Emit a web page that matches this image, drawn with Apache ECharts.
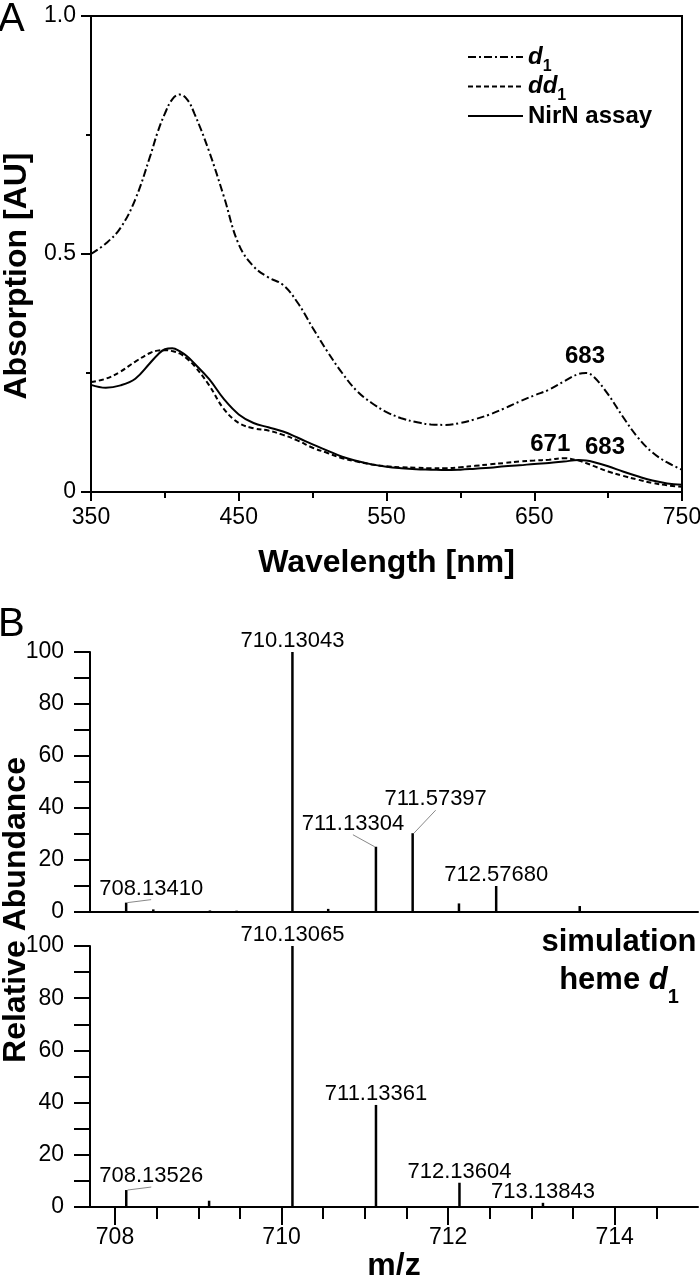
<!DOCTYPE html>
<html><head><meta charset="utf-8">
<script src="https://cdn.jsdelivr.net/npm/echarts@6/dist/echarts.min.js"></script>
<style>html,body{margin:0;padding:0;background:#fff}#c{width:700px;height:1275px}</style>
</head><body><div id="c"></div>
<script>
// ---------- Panel A data ----------
const wavelengths = [350,360,370,380,390,395,400,405,410,415,420,430,440,450,460,470,480,490,500,510,520,530,540,550,560,570,580,590,600,610,620,630,640,650,660,670,680,685,690,700,710,720,730,740,750];
const absD1 = [0.500,0.522,0.555,0.615,0.705,0.755,0.795,0.825,0.835,0.825,0.795,0.715,0.620,0.520,0.474,0.451,0.435,0.397,0.345,0.295,0.250,0.212,0.187,0.168,0.155,0.147,0.142,0.141,0.145,0.153,0.163,0.176,0.190,0.203,0.215,0.232,0.248,0.250,0.243,0.205,0.158,0.115,0.083,0.062,0.047];
const absDD1 = [0.231,0.238,0.253,0.274,0.292,0.297,0.298,0.296,0.291,0.280,0.265,0.224,0.174,0.145,0.134,0.129,0.120,0.108,0.093,0.082,0.071,0.064,0.058,0.054,0.052,0.051,0.050,0.050,0.052,0.055,0.058,0.061,0.064,0.066,0.068,0.071,0.066,0.061,0.055,0.043,0.034,0.026,0.019,0.014,0.011];
const absNirN = [0.225,0.219,0.224,0.238,0.271,0.288,0.300,0.302,0.296,0.285,0.270,0.237,0.195,0.163,0.145,0.136,0.127,0.114,0.100,0.087,0.074,0.065,0.058,0.053,0.050,0.048,0.047,0.046,0.047,0.049,0.051,0.054,0.056,0.059,0.061,0.064,0.067,0.066,0.063,0.054,0.043,0.033,0.024,0.018,0.015];
const seriesNamesA = ['d1', 'dd1', 'NirN assay'];
const peakWavelengthsA = [683, 671, 683];
const peakValuesA = [0.250, 0.071, 0.066];
const peakTextsA = ['683', '671', '683'];

// ---------- Panel B data ----------
const mzMeasured = [708.1341, 708.46, 709.14, 709.46, 710.13043, 710.56, 711.13304, 711.57397, 712.13, 712.5768, 713.58];
const abMeasured = [3.6, 1.0, 0.6, 0.5, 100, 1.2, 25.1, 30.3, 3.3, 10.0, 2.3];
const lblMeasured = ['708.13410', '', '', '', '710.13043', '', '711.13304', '711.57397', '', '712.57680', ''];
const mzSimulated = [708.13526, 709.13, 710.13065, 711.13361, 712.13604, 713.13843, 714.14];
const abSimulated = [6.5, 2.4, 100, 39.1, 9.3, 1.6, 0.3];
const lblSimulated = ['708.13526', '', '710.13065', '711.13361', '712.13604', '713.13843', ''];
const mzMajorTicks = [708, 710, 712, 714];
const mzMinorTicks = [708.5, 709, 709.5, 710.5, 711, 711.5, 712.5, 713, 713.5, 714.5];

// ---------- styles / layout ----------
const FONT = '"Liberation Sans", Arial, Helvetica, sans-serif';
const INK = '#000';
const TICKFONT = 23;
const labelShift = {
  '708.13410': [25, -3],
  '711.13304': [-23, -12],
  '711.57397': [23, -23],
  '708.13526': [25, -3]
};
const markOffsetsA = [[2, -17], [-15, -14], [22, -13]];
const dashStyles = [[8, 3, 2, 3], [5, 3], 'solid'];
const absData = [absD1, absDD1, absNirN];

const chart = echarts.init(document.getElementById('c'), null, {renderer: 'canvas'});

function stickData(mz, ab, lbl) {
  return mz.map((m, i) => {
    const item = {value: [m, ab[i]], name: lbl[i]};
    if (lbl[i]) {
      item.label = {show: true};
      if (labelShift[lbl[i]]) item.labelLine = {show: true, lineStyle: {color: '#888', width: 1}};
    }
    return item;
  });
}

const lineSeries = seriesNamesA.map((name, k) => ({
  name, type: 'line', xAxisIndex: 0, yAxisIndex: 0,
  data: wavelengths.map((w, i) => [w, absData[k][i]]),
  symbol: 'none', smooth: 0.4,
  lineStyle: {color: INK, width: 2, type: dashStyles[k]},
  itemStyle: {color: INK},
  markPoint: {
    symbol: 'circle', symbolSize: 0,
    data: [{coord: [peakWavelengthsA[k], peakValuesA[k]], name: peakTextsA[k]}],
    label: {show: true, position: 'inside', offset: markOffsetsA[k], formatter: p => p.name,
      color: INK, fontFamily: FONT, fontWeight: 'bold', fontSize: 24}
  }
}));

const stickLabel = {
  show: false, position: 'top', distance: 0, formatter: p => p.name,
  color: INK, fontFamily: FONT, fontSize: 22
};
const stickLayout = function (params) {
  const s = labelShift[params.text];
  if (s) return {dx: s[0], dy: s[1]};
  return {};
};

const option = {
  animation: false,
  backgroundColor: '#fff',
  grid: [
    {left: 91, top: 16, width: 591, height: 476, show: true, borderColor: INK, borderWidth: 2, backgroundColor: 'transparent', outerBoundsMode: 'none', containLabel: false},
    {left: 90, top: 652, width: 608, height: 260, outerBoundsMode: 'none', containLabel: false},
    {left: 90, top: 946, width: 608, height: 261, outerBoundsMode: 'none', containLabel: false}
  ],
  legend: {
    data: seriesNamesA, orient: 'vertical', left: 467, top: 45, padding: 0,
    itemWidth: 55, itemHeight: 14, itemGap: 0,
    itemStyle: {color: 'rgba(0,0,0,0)', borderWidth: 0, opacity: 0},
    formatter: name => name === 'd1' ? '{i|d}{s|1}' : name === 'dd1' ? '{i|dd}{s|1}' : '{b|NirN assay}',
    textStyle: {
      color: INK, fontFamily: FONT, fontWeight: 'bold', fontSize: 24,
      rich: {
        i: {fontFamily: FONT, fontWeight: 'bold', fontStyle: 'italic', fontSize: 24, color: INK, lineHeight: 29},
        s: {fontFamily: FONT, fontWeight: 'bold', fontSize: 16, color: INK, verticalAlign: 'bottom', lineHeight: 29, padding: [0, 0, -3, 0]},
        b: {fontFamily: FONT, fontWeight: 'bold', fontSize: 24, color: INK, lineHeight: 29}
      }
    }
  },
  xAxis: [
    {
      gridIndex: 0, type: 'value', min: 350, max: 750, interval: 100, position: 'bottom',
      name: 'Wavelength [nm]', nameLocation: 'middle', nameGap: 55,
      nameTextStyle: {color: INK, fontFamily: FONT, fontWeight: 'bold', fontSize: 32},
      axisLine: {lineStyle: {color: INK, width: 2}},
      axisTick: {show: true, inside: false, length: 9, lineStyle: {color: INK, width: 2}},
      minorTick: {show: true, splitNumber: 2, length: 6, lineStyle: {color: INK, width: 2}},
      axisLabel: {color: INK, fontFamily: FONT, fontSize: TICKFONT, margin: 14},
      splitLine: {show: false}
    },
    {
      gridIndex: 1, type: 'value', min: 707.7, max: 715, position: 'bottom',
      axisLine: {lineStyle: {color: INK, width: 2}},
      axisTick: {show: false}, axisLabel: {show: false}, splitLine: {show: false}
    },
    {
      gridIndex: 2, type: 'value', min: 707.7, max: 715, position: 'bottom', offset: 0,
      name: 'm/z', nameLocation: 'middle', nameGap: 36,
      nameTextStyle: {color: INK, fontFamily: FONT, fontWeight: 'bold', fontSize: 32},
      axisLine: {lineStyle: {color: INK, width: 2}},
      axisTick: {show: true, length: 18, customValues: mzMajorTicks, lineStyle: {color: INK, width: 2}},
      axisLabel: {color: INK, fontFamily: FONT, fontSize: TICKFONT, margin: 19, customValues: mzMajorTicks},
      splitLine: {show: false}
    },
    {
      gridIndex: 2, type: 'value', min: 707.7, max: 715, position: 'bottom', offset: 0,
      axisLine: {show: false},
      axisTick: {show: true, length: 12, customValues: mzMinorTicks, lineStyle: {color: INK, width: 2}},
      axisLabel: {show: false}, splitLine: {show: false}
    }
  ],
  yAxis: [
    {
      gridIndex: 0, type: 'value', min: 0, max: 1, interval: 0.5,
      axisLine: {show: true, lineStyle: {color: INK, width: 2}},
      axisTick: {show: true, length: 10, lineStyle: {color: INK, width: 2}},
      minorTick: {show: true, splitNumber: 2, length: 5, lineStyle: {color: INK, width: 2}},
      axisLabel: {color: INK, fontFamily: FONT, fontSize: TICKFONT, margin: 15, formatter: v => v === 0 ? '0' : v.toFixed(1)},
      splitLine: {show: false}
    },
    {
      gridIndex: 1, type: 'value', min: 0, max: 100, interval: 20,
      axisLine: {show: true, lineStyle: {color: INK, width: 2}},
      axisTick: {show: true, length: 16, lineStyle: {color: INK, width: 2}},
      minorTick: {show: true, splitNumber: 2, length: 16, lineStyle: {color: INK, width: 2}},
      axisLabel: {color: INK, fontFamily: FONT, fontSize: TICKFONT, margin: 26},
      splitLine: {show: false}
    },
    {
      gridIndex: 2, type: 'value', min: 0, max: 100, interval: 20,
      axisLine: {show: true, lineStyle: {color: INK, width: 2}},
      axisTick: {show: true, length: 16, lineStyle: {color: INK, width: 2}},
      minorTick: {show: true, splitNumber: 2, length: 16, lineStyle: {color: INK, width: 2}},
      axisLabel: {color: INK, fontFamily: FONT, fontSize: TICKFONT, margin: 26},
      splitLine: {show: false}
    }
  ],
  series: lineSeries.concat([
    {
      name: 'measured', type: 'bar', xAxisIndex: 1, yAxisIndex: 1, barWidth: 2.5,
      data: stickData(mzMeasured, abMeasured, lblMeasured),
      itemStyle: {color: INK}, label: stickLabel, labelLayout: stickLayout
    },
    {
      name: 'simulated', type: 'bar', xAxisIndex: 2, yAxisIndex: 2, barWidth: 2.5,
      data: stickData(mzSimulated, abSimulated, lblSimulated),
      itemStyle: {color: INK}, label: stickLabel, labelLayout: stickLayout
    }
  ]),
  graphic: [
    {type: 'text', x: -2, y: 0, style: {text: 'A', font: '40px ' + FONT, fill: INK, textAlign: 'left', textVerticalAlign: 'top'}},
    {type: 'text', x: -2, y: 605, style: {text: 'B', font: '40px ' + FONT, fill: INK, textAlign: 'left', textVerticalAlign: 'top'}},
    {type: 'text', x: 17, y: 276, rotation: Math.PI / 2,
      style: {text: 'Absorption [AU]', font: 'bold 32px ' + FONT, fill: INK, textAlign: 'center', textVerticalAlign: 'middle'}},
    {type: 'text', x: 16, y: 910, rotation: Math.PI / 2,
      style: {text: 'Relative Abundance', font: 'bold 32px ' + FONT, fill: INK, textAlign: 'center', textVerticalAlign: 'middle'}},
    {type: 'text', x: 619, y: 961,
      style: {
        text: '{b|simulation}\n{b|heme }{i|d}{s|1}', textAlign: 'center', textVerticalAlign: 'middle', fill: INK,
        rich: {
          b: {fontFamily: FONT, fontWeight: 'bold', fontSize: 31, lineHeight: 38, fill: INK},
          i: {fontFamily: FONT, fontWeight: 'bold', fontStyle: 'italic', fontSize: 31, lineHeight: 38, fill: INK},
          s: {fontFamily: FONT, fontWeight: 'bold', fontSize: 20, lineHeight: 38, fill: INK, verticalAlign: 'bottom', padding: [0, 0, -8, 0]}
        }
      }}
  ]
};
chart.setOption(option);
</script>
</body></html>
